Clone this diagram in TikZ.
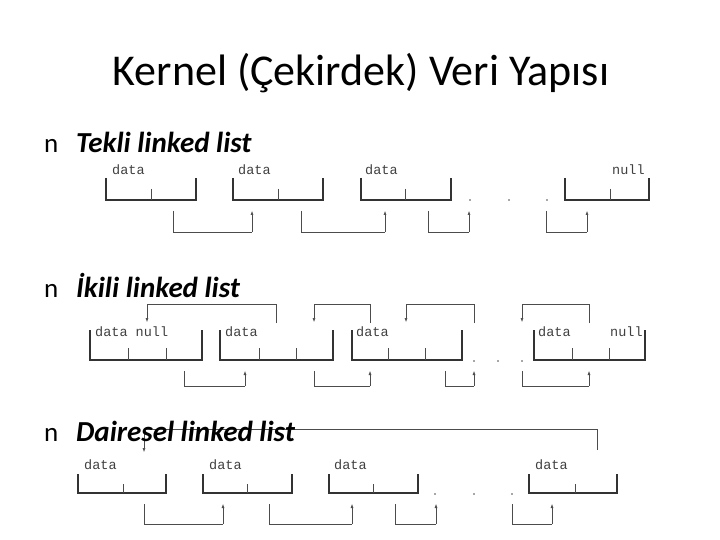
\documentclass[tikz,border=0pt]{standalone}
\usepackage{fontspec}
\usetikzlibrary{arrows.meta}
\setmainfont{Carlito}
\newfontfamily\monof{Liberation Mono}
\begin{document}
\begin{tikzpicture}[x=1pt,y=-1pt,
 box/.style={line width=1.3pt,black!80},
 tick/.style={line width=0.6pt,black!70},
 conn/.style={line width=0.5pt,black!70},
 arr/.style={conn,-{Latex[length=4pt,width=3pt]}},
 lab/.style={font=\monof\fontsize{13.5}{13.5}\selectfont,text=black!75,anchor=base west,inner sep=0},
 item/.style={font=\fontsize{29}{29}\selectfont\bfseries\itshape,anchor=base west,inner sep=0},
 bul/.style={font=\fontsize{27}{27}\selectfont,anchor=base west,inner sep=0},
 dot/.style={circle,fill=black!70,inner sep=0.6pt}]
\useasboundingbox (0,0) rectangle (720,540);
\node[font=\fontsize{44}{44}\selectfont,anchor=base] (title) at (361,86) {Kernel (Çekirdek) Veri Yapısı};
% row 1
\node[bul] (b1) at (44,153) {n};
\node[item] (t1) at (76,153) {Tekli linked list};
\foreach \l/\m/\r in {106/151/196, 233/278/323, 361/405/451, 565/610/649}{
  \draw[box] (\l,178) -- (\l,200) -- (\r,200) -- (\r,178);
  \draw[tick] (\m,189) -- (\m,200);}
\node[lab] (d11) at (112,175) {data};
\node[lab] (d12) at (238,175) {data};
\node[lab] (d13) at (365,175) {data};
\node[lab] (n14) at (612,175) {null};
\foreach \x in {470,509,547} \node[dot] (p\x) at (\x,200) {};
\foreach \a/\b in {173/252, 301/385, 428/469, 546/587}{
  \coordinate (s) at (\a,211); \coordinate (e) at (\b,211);
  \draw[conn] (s) -- (\a,232) -- (\b,232);
  \draw[arr] (\b,232) -- (e);}
% row 2
\node[bul] (b2) at (44,297) {n};
\node[item] (t2) at (76,297) {İkili linked list};
\foreach \a/\b/\c/\d in {90/128/166/202, 220/259/296/333, 352/388/425/462, 534/572/609/645}{
  \draw[box] (\a,330) -- (\a,360) -- (\d,360) -- (\d,330);
  \draw[tick] (\b,348) -- (\b,360); \draw[tick] (\c,348) -- (\c,360);}
\node[lab] (d21) at (95,336) {data null};
\node[lab] (d22) at (225,336) {data};
\node[lab] (d23) at (356,336) {data};
\node[lab] (d24) at (538,336) {data};
\node[lab] (n24) at (610,336) {null};
\foreach \x in {474,498,522} \node[dot] (q\x) at (\x,361) {};
\foreach \a/\b in {147/276, 314/370, 406/474, 522/589}{
  \draw[conn] (\b,323) -- (\b,304) -- (\a,304);
  \draw[arr] (\a,304) -- (\a,322);}
\foreach \a/\b in {184/245, 314/370, 445/474, 522/589}{
  \draw[conn] (\a,371) -- (\a,386) -- (\b,386);
  \draw[arr] (\b,386) -- (\b,371);}
% row 3
\draw[conn] (597,450) -- (597,429) -- (144,429);
\draw[arr] (144,429) -- (144,452);
\node[bul] (b3) at (44,441) {n};
\node[item] (t3) at (76,441) {Dairesel linked list};
\foreach \l/\m/\r in {78/123/166, 203/247/292, 329/373/418, 529/575/617}{
  \draw[box] (\l,474) -- (\l,493) -- (\r,493) -- (\r,474);
  \draw[tick] (\m,484) -- (\m,493);}
\node[lab] (d31) at (84,469) {data};
\node[lab] (d32) at (209,469) {data};
\node[lab] (d33) at (334,469) {data};
\node[lab] (d34) at (535,469) {data};
\foreach \x in {435,474,512} \node[dot] (r\x) at (\x,494) {};
\foreach \a/\b in {144/223, 269/352, 395/436, 512/552}{
  \draw[conn] (\a,504) -- (\a,524) -- (\b,524);
  \draw[arr] (\b,524) -- (\b,504);}
\end{tikzpicture}
\end{document}
